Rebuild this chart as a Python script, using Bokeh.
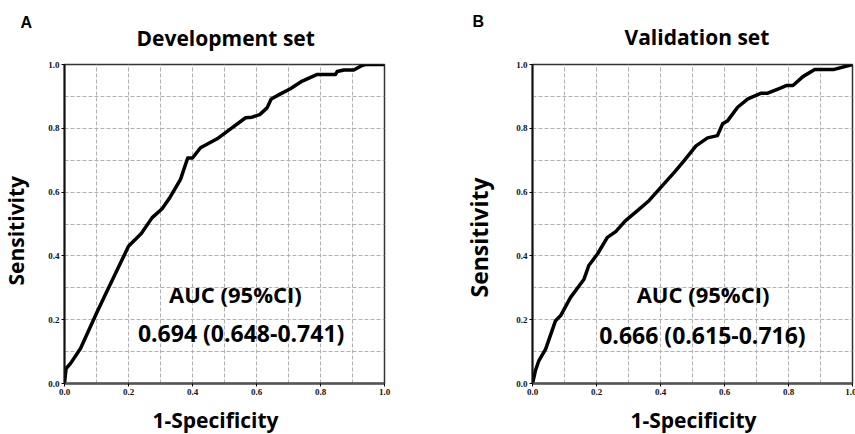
from bokeh.plotting import figure
from bokeh.layouts import row
from bokeh.models import Range1d, FixedTicker, Label, PrintfTickFormatter, Title
from bokeh.embed import file_html
from bokeh.resources import INLINE

# ---- data ----
dev_fpr = [0.0, 0.003, 0.005, 0.019, 0.05, 0.10, 0.133, 0.20, 0.24, 0.274, 0.305, 0.33,
           0.3625, 0.385, 0.40, 0.425, 0.477, 0.519, 0.566, 0.586, 0.61, 0.633, 0.646,
           0.675, 0.706, 0.743, 0.79, 0.847, 0.852, 0.873, 0.904, 0.93, 0.94, 1.0]
dev_tpr = [0.0, 0.03, 0.047, 0.063, 0.11, 0.22, 0.29, 0.43, 0.47, 0.52, 0.548, 0.584,
           0.64, 0.707, 0.707, 0.739, 0.767, 0.798, 0.833, 0.835, 0.843, 0.864, 0.892,
           0.908, 0.924, 0.948, 0.969, 0.969, 0.978, 0.983, 0.983, 0.997, 1.0, 1.0]

val_fpr = [0.0, 0.009, 0.02, 0.041, 0.072, 0.088, 0.119, 0.161, 0.176, 0.203, 0.234, 0.26,
           0.29, 0.328, 0.364, 0.401, 0.443, 0.474, 0.511, 0.547, 0.578, 0.594, 0.61,
           0.641, 0.673, 0.715, 0.735, 0.767, 0.793, 0.814, 0.845, 0.882, 0.94, 1.0]
val_tpr = [0.0, 0.04, 0.072, 0.108, 0.197, 0.213, 0.27, 0.327, 0.37, 0.406, 0.458, 0.476,
           0.51, 0.542, 0.573, 0.615, 0.662, 0.699, 0.745, 0.77, 0.777, 0.814, 0.824,
           0.866, 0.892, 0.91, 0.91, 0.923, 0.934, 0.934, 0.962, 0.984, 0.984, 1.0]

axis_ticks = [0.0, 0.2, 0.4, 0.6, 0.8, 1.0]
grid_ticks = [0.1, 0.2, 0.3, 0.4, 0.5, 0.6, 0.7, 0.8, 0.9]

panel_letters = ["A", "B"]
panel_titles = ["Development set", "Validation set"]
auc_header = "AUC (95%CI)"
auc_values = ["0.694 (0.648-0.741)", "0.666 (0.615-0.716)"]
x_label = "1-Specificity"
y_label = "Sensitivity"

SANS = "Open Sans"


def big_title(text, offset, standoff, size="21px"):
    return Title(text=text, align="left", offset=offset, standoff=standoff,
                 text_font=SANS, text_font_size=size, text_font_style="bold",
                 text_color="black")


def make_panel(fpr, tpr, letter, title, auc_value, left, right, margin, cfg):
    p = figure(width=left + 320 + right, height=64 + 319 + 58,
               output_backend="svg", toolbar_location=None,
               x_range=Range1d(0, 1), y_range=Range1d(0, 1),
               min_border_left=left, min_border_right=right,
               min_border_top=64, min_border_bottom=58, margin=margin)
    p.background_fill_color = "white"
    p.border_fill_color = "white"
    p.outline_line_color = "#333333"
    p.outline_line_width = 1.5

    # panel letter (outermost title)
    p.title.text = letter
    p.title.align = "left"
    p.title.offset = cfg["letter_offset"]
    p.title.standoff = cfg["letter_standoff"]
    p.title.text_font = "Liberation Sans"
    p.title.text_font_size = "16px"
    p.title.text_font_style = "bold"
    p.title.text_color = "black"
    # panel title
    p.add_layout(big_title(title, cfg["title_offset"], cfg["title_standoff"]), "above")

    for ax in (p.xaxis, p.yaxis):
        ax.ticker = FixedTicker(ticks=axis_ticks)
        ax.formatter = PrintfTickFormatter(format="%.1f")
        ax.major_label_text_font = "Liberation Serif"
        ax.major_label_text_font_style = "bold"
        ax.major_label_text_font_size = "9px"
        ax.major_label_text_color = "#111111"
        ax.major_tick_in = 0
        ax.major_tick_out = 3
        ax.major_label_standoff = 2
        ax.minor_tick_line_color = None
    p.yaxis.axis_line_color = "#111111"
    p.yaxis.axis_line_width = 2
    p.xaxis.axis_line_color = "#555555"
    p.xaxis.axis_line_width = 2.5

    # axis titles
    p.add_layout(big_title(x_label, cfg["xlab_offset"], cfg["xlab_standoff"]), "below")
    p.add_layout(big_title(y_label, cfg["ylab_offset"], cfg["ylab_standoff"],
                           cfg["ylab_size"]), "left")

    for g in (p.xgrid, p.ygrid):
        g.ticker = FixedTicker(ticks=grid_ticks)
        g.grid_line_color = "#b0b0b0"
        g.grid_line_dash = "4 2"
        g.grid_line_width = 1

    p.line(fpr, tpr, line_color="black", line_width=3.5, line_join="round")

    for (x, y), text, size in ((cfg["auc1"], auc_header, "22px"),
                               (cfg["auc2"], auc_value, "23px")):
        p.add_layout(Label(x=x, y=y, text=text, text_font=SANS, text_font_size=size,
                           text_font_style="bold", text_color="black",
                           text_align="center", text_baseline="middle"))
    return p


cfg_a = dict(letter_offset=-44, letter_standoff=-44, title_offset=72, title_standoff=26,
             xlab_offset=88, xlab_standoff=13, ylab_offset=98, ylab_standoff=31,
             ylab_size="21px", auc1=(0.534, 0.279), auc2=(0.552, 0.157))
cfg_b = dict(letter_offset=-60, letter_standoff=-44, title_offset=92, title_standoff=27,
             xlab_offset=98, xlab_standoff=13, ylab_offset=86, ylab_standoff=37,
             ylab_size="23px", auc1=(0.533, 0.281), auc2=(0.531, 0.152))

# panel A: frame starts at x=64 on the page, panel B at x=532
pa = make_panel(dev_fpr, dev_tpr, panel_letters[0], panel_titles[0], auc_values[0],
                82, 46, (0, 0, -7, -18), cfg_a)
pb = make_panel(val_fpr, val_tpr, panel_letters[1], panel_titles[1], auc_values[1],
                102, 4, (0, 0, -7, 0), cfg_b)

p = row(pa, pb)
open("out.html", "w").write(file_html(p, INLINE))
